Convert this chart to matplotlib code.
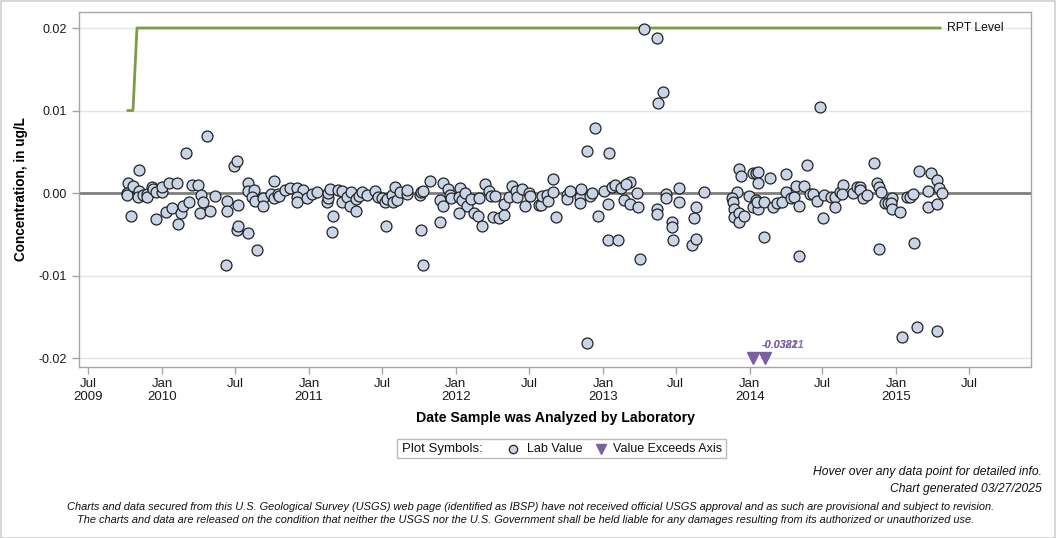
import matplotlib
matplotlib.use("Agg")
import matplotlib.pyplot as plt
from matplotlib.lines import Line2D
from matplotlib.patches import Rectangle
import pandas as pd
import numpy as np

plt.rcParams['font.family'] = ['Liberation Sans', 'DejaVu Sans']

# ---- data (decimal year of analysis, concentration ug/L) ----
lab_year = [
    2009.764, 2009.759, 2009.759, 2009.802, 2009.841, 2009.786, 2009.841, 2009.836, 2009.870, 2009.893,
    2009.897, 2009.931, 2009.938, 2009.956, 2009.995, 2009.999, 2010.047, 2010.102, 2009.959, 2010.025,
    2010.067, 2010.108, 2010.127, 2010.142, 2010.181, 2010.161, 2010.306, 2010.200, 2010.245, 2010.263,
    2010.279, 2010.256, 2010.324, 2010.358, 2010.438, 2010.438, 2010.433, 2010.488, 2010.510, 2010.515,
    2010.510, 2010.517, 2010.585, 2010.647, 2010.585, 2010.581, 2010.626, 2010.608, 2010.631, 2010.687,
    2010.687, 2010.762, 2010.740, 2010.762, 2010.785, 2010.796, 2010.835, 2010.869, 2010.915, 2010.960,
    2010.915, 2010.919, 2010.987, 2011.017, 2011.055, 2011.119, 2011.126, 2011.130, 2011.142, 2011.164,
    2011.153, 2011.198, 2011.226, 2011.221, 2011.256, 2011.283, 2011.278, 2011.319, 2011.317, 2011.339,
    2011.362, 2011.396, 2011.448, 2011.471, 2011.494, 2011.516, 2011.528, 2011.523, 2011.562, 2011.585,
    2011.573, 2011.596, 2011.619, 2011.664, 2011.668, 2011.755, 2011.762, 2011.773, 2011.762, 2011.777,
    2011.823, 2011.914, 2011.948, 2011.891, 2011.914, 2011.891, 2011.959, 2011.964, 2012.027, 2012.020,
    2012.039, 2012.061, 2012.073, 2012.023, 2012.102, 2012.125, 2012.148, 2012.179, 2012.159, 2012.198,
    2012.227, 2012.238, 2012.266, 2012.254, 2012.295, 2012.329, 2012.329, 2012.363, 2012.379, 2012.409,
    2012.414, 2012.448, 2012.470, 2012.497, 2012.504, 2012.565, 2012.579, 2012.588, 2012.618, 2012.625,
    2012.663, 2012.663, 2012.681, 2012.754, 2012.758, 2012.777, 2012.845, 2012.852, 2012.847, 2012.913,
    2012.924, 2012.969, 2013.010, 2013.031, 2013.031, 2013.102, 2013.061, 2013.083, 2013.122, 2013.140,
    2012.894, 2013.042, 2012.947, 2012.894, 2013.181, 2013.158, 2013.181, 2013.235, 2013.242, 2013.253,
    2013.371, 2013.371, 2013.429, 2013.429, 2013.469, 2013.469, 2013.476, 2013.521, 2013.521, 2013.606,
    2013.635, 2013.617, 2013.635, 2013.691, 2013.930, 2013.939, 2013.912, 2013.882, 2013.889, 2013.894,
    2013.894, 2013.930, 2013.930, 2013.962, 2013.996, 2014.025, 2014.044, 2014.059, 2014.059, 2014.044,
    2014.044, 2014.021, 2014.059, 2014.053, 2014.100, 2014.100, 2014.139, 2014.161, 2014.185, 2014.219,
    2014.248, 2014.248, 2014.280, 2014.302, 2014.316, 2014.373, 2014.339, 2014.339, 2014.393, 2014.412,
    2014.434, 2014.461, 2014.509, 2014.502, 2014.555, 2014.582, 2014.582, 2014.616, 2014.638, 2014.627,
    2014.706, 2014.730, 2014.752, 2014.752, 2014.775, 2014.798, 2014.847, 2014.870, 2014.884, 2014.893,
    2014.884, 2014.922, 2014.941, 2014.968, 2014.963, 2014.968, 2015.025, 2015.070, 2015.093, 2015.115,
    2015.120, 2015.156, 2015.217, 2015.217, 2015.236, 2015.275, 2015.292, 2015.309, 2015.279, 2015.040,
    2015.142, 2015.279, 2013.283, 2013.371, 2013.412, 2013.376, 2014.480,
]
lab_value = [
    0.00118, 0.00000, -0.00024, 0.00088, 0.00279, -0.00275, 0.00024, -0.00045, -0.00024, -0.00016,
    -0.00045, 0.00076, 0.00048, 0.00016, 0.00016, 0.00076, 0.00118, 0.00118, -0.00315, -0.00227,
    -0.00178, -0.00376, -0.00246, -0.00158, -0.00113, 0.00481, 0.00687, 0.00097, 0.00097, -0.00024,
    -0.00113, -0.00246, -0.00218, -0.00040, -0.00101, -0.00218, -0.00873, 0.00331, 0.00388, -0.00145,
    -0.00448, -0.00400, -0.00485, -0.00691, 0.00118, 0.00024, 0.00036, -0.00045, -0.00097, -0.00064,
    -0.00158, 0.00145, -0.00016, -0.00057, -0.00016, -0.00033, 0.00042, 0.00064, 0.00064, 0.00036,
    -0.00045, -0.00113, -0.00057, -0.00016, 0.00008, -0.00105, -0.00057, -0.00004, 0.00048, -0.00279,
    -0.00476, 0.00036, 0.00024, -0.00105, -0.00045, 0.00016, -0.00154, -0.00218, -0.00073, -0.00033,
    0.00016, -0.00024, 0.00028, -0.00045, -0.00064, -0.00113, -0.00073, -0.00400, -0.00024, 0.00076,
    -0.00113, -0.00085, 0.00016, -0.00012, 0.00036, -0.00024, 0.00016, 0.00024, -0.00448, -0.00873,
    0.00145, 0.00118, 0.00048, -0.00085, -0.00158, -0.00348, -0.00024, -0.00064, 0.00064, -0.00045,
    -0.00085, -0.00004, -0.00158, -0.00239, -0.00073, -0.00239, -0.00275, -0.00400, -0.00057, 0.00105,
    0.00024, -0.00036, -0.00036, -0.00287, -0.00307, -0.00267, -0.00133, -0.00045, 0.00085, 0.00024,
    -0.00045, 0.00045, -0.00158, -0.00004, -0.00036, -0.00145, -0.00145, -0.00036, -0.00024, -0.00097,
    0.00170, 0.00016, -0.00287, -0.00024, -0.00073, 0.00024, -0.00045, 0.00045, -0.00118, -0.00033,
    -0.00004, -0.00279, 0.00024, -0.00133, -0.00570, -0.00570, 0.00076, 0.00097, 0.00057, -0.00085,
    0.00509, 0.00481, 0.00784, -0.01822, 0.00130, 0.00109, -0.00133, -0.00004, -0.00170, -0.00804,
    -0.00194, -0.00258, -0.00016, -0.00064, -0.00348, -0.00408, -0.00573, 0.00057, -0.00113, -0.00630,
    -0.00561, -0.00307, -0.00170, 0.00008, 0.00287, 0.00202, 0.00008, -0.00057, -0.00113, -0.00194,
    -0.00287, -0.00246, -0.00355, -0.00279, -0.00036, 0.00239, 0.00239, 0.00251, 0.00118, -0.00085,
    -0.00133, -0.00166, -0.00198, -0.00113, -0.00113, -0.00533, 0.00178, -0.00166, -0.00125, -0.00113,
    0.00227, 0.00008, -0.00057, -0.00045, 0.00085, 0.00085, -0.00158, -0.00764, 0.00336, -0.00012,
    -0.00012, -0.00097, -0.00024, -0.00307, -0.00045, -0.00045, -0.00170, 0.00016, 0.00097, -0.00012,
    -0.00004, 0.00069, 0.00076, 0.00036, -0.00064, -0.00024, 0.00360, 0.00118, 0.00076, 0.00016,
    -0.00682, -0.00118, -0.00125, -0.00057, -0.00118, -0.00198, -0.00227, -0.00045, -0.00045, -0.00012,
    -0.00610, 0.00267, 0.00024, -0.00170, 0.00239, 0.00158, 0.00064, -0.00004, -0.00133, -0.01749,
    -0.01628, -0.01676, 0.01988, 0.01875, 0.01221, 0.01087, 0.01042,
]

exceed_year = [2014.025, 2014.106]
exceed_label = ["-0.0381", "-0.03221"]

rpt_year = [2009.766, 2009.800, 2009.827, 2015.297]
rpt_value = [0.01, 0.01, 0.02, 0.02]

y_ticks = [-0.02, -0.01, 0.0, 0.01, 0.02]
y_ticklabels = ["-0.02", "-0.01", "0.00", "0.01", "0.02"]
x_ticks = ["2009-07-01", "2010-01-01", "2010-07-01", "2011-01-01", "2011-07-01", "2012-01-01",
           "2012-07-01", "2013-01-01", "2013-07-01", "2014-01-01", "2014-07-01", "2015-01-01",
           "2015-07-01"]
x_ticklabels = ["Jul\n2009", "Jan\n2010", "Jul", "Jan\n2011", "Jul", "Jan\n2012", "Jul",
                "Jan\n2013", "Jul", "Jan\n2014", "Jul", "Jan\n2015", "Jul"]
x_range = [2009.432, 2015.917]
y_range = [-0.02109, 0.02194]


def to_dt(years):
    out = []
    for y in years:
        yi = int(np.floor(y))
        start = pd.Timestamp(year=yi, month=1, day=1)
        end = pd.Timestamp(year=yi + 1, month=1, day=1)
        out.append(start + (end - start) * (y - yi))
    return pd.to_datetime(out)


W, H = 1056, 538
fig = plt.figure(figsize=(W / 100, H / 100), dpi=100)
fig.patch.set_facecolor('white')
fig.add_artist(Rectangle((0.5 / W, 0.5 / H), 1 - 1.5 / W, 1 - 1.5 / H, transform=fig.transFigure,
                         fill=False, edgecolor='#cfcfcf', lw=1.2))

L, T, R, B = 79, 12, 1031, 367
ax = fig.add_axes([L / W, 1 - B / H, (R - L) / W, (B - T) / H])

xlo, xhi = to_dt(x_range)
ax.set_xlim(xlo, xhi)
ax.set_ylim(*y_range)

for v in y_ticks:
    if v == 0:
        ax.axhline(v, color='#7f7f7f', lw=2.0, zorder=1)
    else:
        ax.axhline(v, color='#e4e4e4', lw=1.0, zorder=0)

rx = to_dt(rpt_year)
ax.plot(rx, rpt_value, color='#7e9b47', lw=2.0, zorder=2)
ax.annotate("RPT Level", xy=(rx[-1], rpt_value[-1]), xytext=(5, 0), textcoords='offset points',
            va='center', ha='left', fontsize=8.8, color='#111111')

ax.scatter(to_dt(lab_year), lab_value, s=62, facecolor='#c9d5e6', edgecolor='#222222',
           linewidths=0.9, zorder=3)

ex = to_dt(exceed_year)
ybot = -0.02
ax.plot(ex, [ybot] * len(ex), linestyle='none', marker='v', markersize=8,
        color='#7a5fa3', zorder=4)
for lab in exceed_label:
    ax.annotate(lab, xy=(ex[0], ybot), xytext=(6, 5.5), textcoords='offset points',
                fontsize=7.8, fontweight='bold', fontstyle='italic', color='#7a5fa3',
                ha='left', va='bottom', zorder=4, alpha=0.9)

for s in ax.spines.values():
    s.set_color('#a6a6a6')
    s.set_linewidth(1.0)
ax.set_yticks(y_ticks)
ax.set_yticklabels(y_ticklabels, fontsize=9, color='#1a1a1a')
ax.set_xticks(pd.to_datetime(x_ticks))
ax.set_xticklabels(x_ticklabels, fontsize=9.5, color='#1a1a1a', linespacing=1.1)
ax.tick_params(axis='both', colors='#a6a6a6', length=5, width=1, labelcolor='#1a1a1a')
ax.tick_params(axis='x', pad=3)
ax.set_ylabel("Concentration, in ug/L", fontsize=9.8, fontweight='bold', labelpad=8)
ax.set_xlabel("Date Sample was Analyzed by Laboratory", fontsize=10.2, fontweight='bold', labelpad=6)

fig.add_artist(Rectangle((397 / W, 1 - 458 / H), (726 - 397) / W, (458 - 439) / H,
                         transform=fig.transFigure, fill=False, edgecolor='#bcbcbc', lw=1))
ly = 1 - 449 / H
fig.text(402 / W, ly, "Plot Symbols:", fontsize=9.5, va='center', ha='left', color='#111111')
fig.add_artist(Line2D([513 / W], [ly], transform=fig.transFigure, marker='o', markersize=6,
                      markerfacecolor='#c9d5e6', markeredgecolor='#222222', markeredgewidth=0.9,
                      linestyle='none'))
fig.text(527 / W, ly, "Lab Value", fontsize=9, va='center', ha='left', color='#111111')
fig.add_artist(Line2D([601 / W], [ly], transform=fig.transFigure, marker='v', markersize=7,
                      color='#7a5fa3', linestyle='none'))
fig.text(613 / W, ly, "Value Exceeds Axis", fontsize=9, va='center', ha='left', color='#111111')

fig.text(1042 / W, 1 - 472 / H, "Hover over any data point for detailed info.", fontsize=8.7,
         fontstyle='italic', ha='right', va='center', color='#111111')
fig.text(1042 / W, 1 - 489 / H, "Chart generated 03/27/2025", fontsize=8.7,
         fontstyle='italic', ha='right', va='center', color='#111111')
fig.text(531 / W, 1 - 507 / H,
         "Charts and data secured from this U.S. Geological Survey (USGS) web page (identified as IBSP) "
         "have not received official USGS approval and as such are provisional and subject to revision.",
         fontsize=7.9, fontstyle='italic', ha='center', va='center', color='#111111')
fig.text(526 / W, 1 - 520 / H,
         "The charts and data are released on the condition that neither the USGS nor the U.S. Government "
         "shall be held liable for any damages resulting from its authorized or unauthorized use.",
         fontsize=7.9, fontstyle='italic', ha='center', va='center', color='#111111')

fig.savefig("out.png", dpi=100)
